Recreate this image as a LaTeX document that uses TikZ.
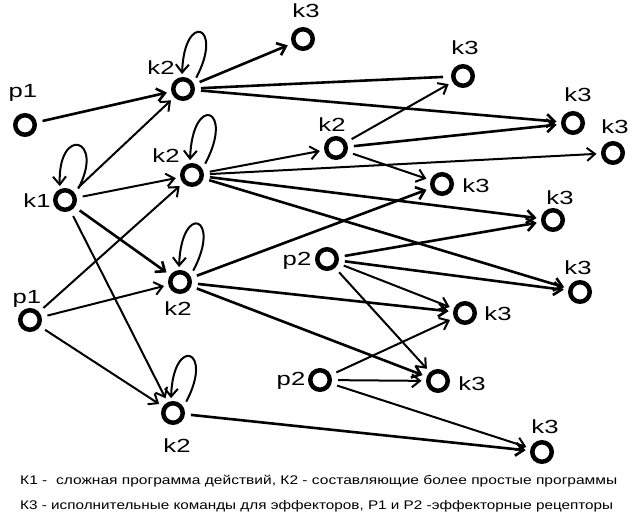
\documentclass[tikz,border=0pt]{standalone}
\usepackage{fontspec}
\usepackage{graphicx}
\setmainfont{Liberation Sans}
\newfontfamily\labfont[FakeStretch=1.35]{Liberation Sans}
\usetikzlibrary{arrows.meta}
\begin{document}
\begin{tikzpicture}[x=1pt,y=1pt,
 vtx/.style={circle,draw,line width=4.5pt,minimum size=19.5pt,inner sep=0pt},
 lab/.style={font=\labfont\fontsize{19}{19}\selectfont,inner sep=0pt,anchor=base},
 tipst/.style={-{Straight Barb[length=8pt,width=13pt]}},
 thk/.style={tipst,line width=2.6pt,shorten <=6pt,shorten >=4.5pt},
 thn/.style={tipst,line width=2pt,shorten <=6pt,shorten >=4.5pt},
 plainthk/.style={line width=2.6pt,shorten <=6pt,shorten >=8pt},
 selfl/.style={tipst,line width=2pt,shorten <=6pt,shorten >=3pt}]
\useasboundingbox (0,0) rectangle (642,-518);

% vertices
\node[vtx] (p1a) at (25,-125) {};
\node[vtx] (p1b) at (30,-320) {};
\node[vtx] (k1)  at (65,-200) {};
\node[vtx] (k2a) at (183,-89) {};
\node[vtx] (k2b) at (192,-175) {};
\node[vtx] (k2c) at (336,-148) {};
\node[vtx] (k2d) at (180,-282) {};
\node[vtx] (k2e) at (173,-413) {};
\node[vtx] (p2a) at (327,-259) {};
\node[vtx] (p2b) at (320,-380) {};
\node[vtx] (k3a) at (303,-39) {};
\node[vtx] (k3b) at (463,-76) {};
\node[vtx] (k3c) at (573,-123) {};
\node[vtx] (k3d) at (613,-153) {};
\node[vtx] (k3e) at (442,-184) {};
\node[vtx] (k3f) at (553,-220) {};
\node[vtx] (k3g) at (580,-292) {};
\node[vtx] (k3h) at (465,-313) {};
\node[vtx] (k3i) at (438,-381) {};
\node[vtx] (k3j) at (542,-452) {};

% labels
\node[lab] (lp1a) at (23,-98) {p1};
\node[lab] (lp1b) at (27,-304) {p1};
\node[lab] (lk1)  at (37,-208) {k1};
\node[lab] (lk2a) at (161,-75) {k2};
\node[lab] (lk2b) at (166,-163) {k2};
\node[lab] (lk2c) at (332,-132) {k2};
\node[lab] (lk2d) at (178,-316) {k2};
\node[lab] (lk2e) at (177,-452) {k2};
\node[lab] (lp2a) at (297,-266) {p2};
\node[lab] (lp2b) at (291,-385) {p2};
\node[lab] (lk3a) at (306,-18) {k3};
\node[lab] (lk3b) at (465,-55) {k3};
\node[lab] (lk3c) at (578,-102) {k3};
\node[lab] (lk3d) at (615,-134) {k3};
\node[lab] (lk3e) at (476,-193) {k3};
\node[lab] (lk3f) at (560,-205) {k3};
\node[lab] (lk3g) at (578,-275) {k3};
\node[lab] (lk3h) at (498,-321) {k3};
\node[lab] (lk3i) at (472,-390) {k3};
\node[lab] (lk3j) at (545,-433) {k3};

% self loops
\draw[selfl] (k1.30)  .. controls +(62:64) and +(92:64) .. (k1.115);
\draw[selfl] (k2a.30) .. controls +(62:66) and +(88:66) .. (k2a.95);
\draw[selfl] (k2b.30) .. controls +(62:70) and +(88:70) .. (k2b.100);
\draw[selfl] (k2d.30) .. controls +(62:68) and +(88:68) .. (k2d.95);
\draw[selfl] (k2e.30) .. controls +(62:66) and +(88:66) .. (k2e.100);

% thick connectors
\draw[thk] (p1a) -- (k2a);
\draw[thk] (k2a) -- (k3a);
\draw[plainthk] (k2a) -- (k3b);
\draw[thk] (k2a) -- (k3c);
\draw[thk] (k2c) -- (k3c);
\draw[thk] (k2b) -- (k3f);
\draw[thk] (k2b) -- (k3g);
\draw[thk] (k1) -- (k2d);
\draw[thk] (k2d) -- (k3e);
\draw[thk] (k2d) -- (k3h);
\draw[thk] (k2d) -- (k3i);
\draw[thk] (k2e) -- (k3j);
\draw[thk] (p2a) -- (k3f);
\draw[thk] (p2a) -- (k3g);

% thin connectors
\draw[thn] (k1) -- (k2a);
\draw[thn] (k1) -- (k2b);
\draw[thn] (k1) -- (k2e);
\draw[thn] (p1b) -- (k2b);
\draw[thn] (p1b) -- (k2d);
\draw[thn] (p1b) -- (k2e);
\draw[thn] (k2b) -- (k2c);
\draw[thn] (k2b) -- (k3d);
\draw[thn] (k2c) -- (k3b);
\draw[thn] (k2c) -- (k3e);
\draw[thn] (p2a) -- (k3h);
\draw[thn] (p2a) -- (k3i);
\draw[thn] (p2b) -- (k3h);
\draw[thn] (p2b) -- (k3i);
\draw[thn] (p2b) -- (k3j);

% caption
\node[anchor=base west,inner sep=0pt] (cap1) at (20,-484)
 {\resizebox{597pt}{\height}{\fontsize{12.5}{12.5}\selectfont К1 -\ \ сложная программа действий, К2 - составляющие более простые программы}};
\node[anchor=base west,inner sep=0pt] (cap2) at (20,-509)
 {\resizebox{593pt}{\height}{\fontsize{12.5}{12.5}\selectfont К3 - исполнительные команды для эффекторов, Р1 и Р2 -эффекторные рецепторы}};
\end{tikzpicture}
\end{document}
